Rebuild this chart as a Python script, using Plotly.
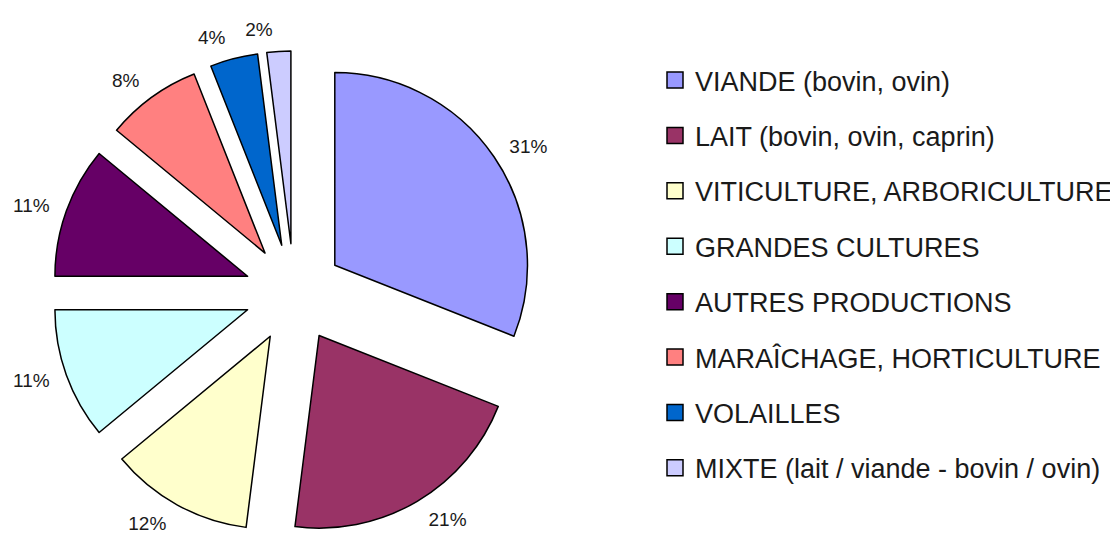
import plotly.graph_objects as go

labels = ["VIANDE (bovin, ovin)", "LAIT (bovin, ovin, caprin)", "VITICULTURE, ARBORICULTURE",
          "GRANDES CULTURES", "AUTRES PRODUCTIONS", "MARAÎCHAGE, HORTICULTURE",
          "VOLAILLES", "MIXTE (lait / viande - bovin / ovin)"]
values = [31, 21, 12, 11, 11, 8, 4, 2]
colors = ["#9999FF", "#993366", "#FFFFCC", "#CCFFFF", "#660066", "#FF8080", "#0066CC", "#CCCCFF"]

W, H = 1118, 540
cx, cy, half = 286, 285, 242
lhalf = 254
n = len(values)

def dom(h):
    return dict(x=[(cx - h) / W, (cx + h) / W],
                y=[max(0, (H - cy - h) / H), min(1, (H - cy + h) / H)])

fig = go.Figure()
# slices
fig.add_trace(go.Pie(
    labels=labels, values=values, sort=False, direction="clockwise", rotation=0,
    marker=dict(colors=colors, line=dict(color="black", width=1.5)),
    pull=[0.256] * n, textinfo="none",
    showlegend=False, hoverinfo="label+percent", automargin=False,
    domain=dom(half),
))
# percentage labels, placed by invisible rings (two rings so the small last
# label is not pushed away by the label next to it)
label_font = dict(family="Liberation Sans, Arial, sans-serif", size=19, color="#1a1a1a")
for positions in (["outside"] * (n - 1) + ["none"], ["none"] * (n - 1) + ["outside"]):
    fig.add_trace(go.Pie(
        labels=labels, values=values, sort=False, direction="clockwise", rotation=0,
        marker=dict(colors=["rgba(0,0,0,0)"] * n, line=dict(width=0)),
        textposition=positions, texttemplate="%{value}%",
        outsidetextfont=label_font,
        showlegend=False, hoverinfo="skip", automargin=False,
        domain=dom(lhalf),
    ))

for i, (lab, col) in enumerate(zip(labels, colors)):
    fig.add_trace(go.Scatter(
        x=[None], y=[None], mode="markers", name=lab, legendgroup=str(i),
        marker=dict(symbol="square", size=17, color=col, line=dict(color="black", width=1.5)),
        showlegend=True,
    ))

fig.update_layout(
    width=W, height=H, margin=dict(l=0, r=0, t=0, b=0, autoexpand=False),
    paper_bgcolor="white", plot_bgcolor="white",
    xaxis=dict(visible=False), yaxis=dict(visible=False),
    legend=dict(x=647 / W, y=1 - 48 / H, xref="container", yref="container",
                xanchor="left", yanchor="top", maxheight=540,
                font=dict(family="Liberation Sans, Arial, sans-serif", size=27, color="#1a1a1a"),
                tracegroupgap=17.3, bgcolor="rgba(0,0,0,0)"),
)

fig.write_html("out.html")
